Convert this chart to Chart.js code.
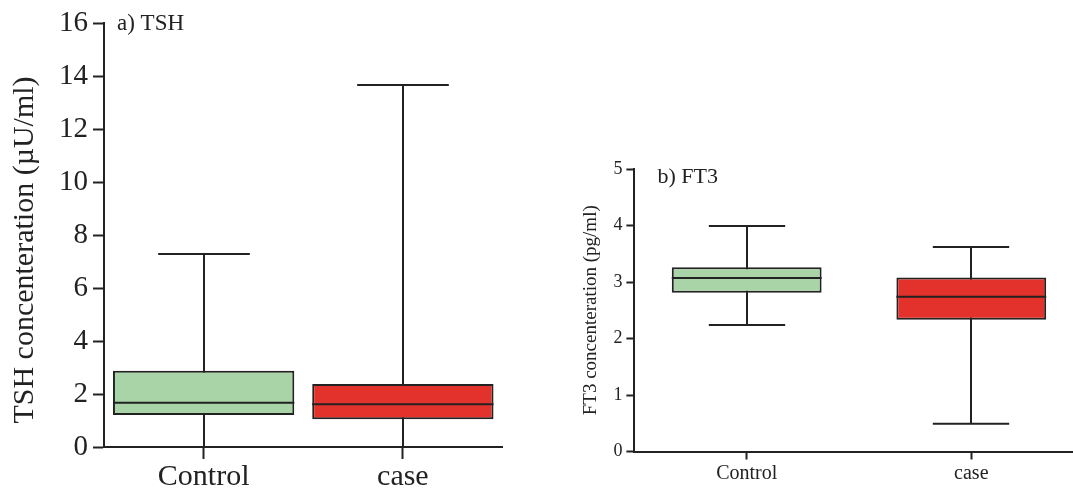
<!DOCTYPE html>
<html><head><meta charset="utf-8">
<script src="https://cdn.jsdelivr.net/npm/chart.js@4.4.0/dist/chart.umd.min.js"></script>
<style>
html,body{margin:0;padding:0;background:#fff;width:1073px;height:491px;overflow:hidden;position:relative}
#wa{position:absolute;left:0;top:0;width:540px;height:491px}
#wb{position:absolute;left:540px;top:0;width:533px;height:491px;overflow:hidden}
canvas{display:block}
</style></head><body>
<div id="wa"><canvas id="ca" width="540" height="491"></canvas></div>
<div id="wb"><canvas id="cb" width="560" height="491"></canvas></div>
<script>
const categories = ['Control', 'case'];

const tshMin    = [0, 0];
const tshQ1     = [1.21, 1.05];
const tshMedian = [1.67, 1.61];
const tshQ3     = [2.88, 2.38];
const tshMax    = [7.28, 13.66];
const tshTicks  = [0, 2, 4, 6, 8, 10, 12, 14, 16];

const ft3Min    = [2.24, 0.49];
const ft3Q1     = [2.81, 2.33];
const ft3Median = [3.07, 2.74];
const ft3Q3     = [3.26, 3.08];
const ft3Max    = [3.99, 3.62];
const ft3Ticks  = [0, 1, 2, 3, 4, 5];

const boxColors = ['#a9d4a8', '#e3312b'];
const INK = '#222';
const SERIF = '"Liberation Serif", "Times New Roman", serif';

function boxPlugin(mins, meds, maxs, capFrac) {
  return {
    id: 'boxWhiskers',
    beforeDatasetsDraw(chart) {
      const xs = chart.scales.x, ys = chart.scales.y, ctx = chart.ctx;
      const catW = xs.width / categories.length;
      ctx.save();
      ctx.strokeStyle = INK; ctx.lineWidth = 2; ctx.lineCap = 'butt';
      categories.forEach((c, i) => {
        const cx = Math.round(xs.getPixelForValue(i));
        const yMin = ys.getPixelForValue(mins[i]);
        const yMax = ys.getPixelForValue(maxs[i]);
        const half = catW * capFrac / 2;
        ctx.beginPath();
        ctx.moveTo(cx, yMin); ctx.lineTo(cx, yMax);
        ctx.moveTo(cx - half, yMax); ctx.lineTo(cx + half, yMax);
        if (mins[i] > ys.min) { ctx.moveTo(cx - half, yMin); ctx.lineTo(cx + half, yMin); }
        ctx.stroke();
      });
      ctx.restore();
    },
    afterDatasetsDraw(chart) {
      const ys = chart.scales.y, ctx = chart.ctx;
      const meta = chart.getDatasetMeta(0);
      ctx.save();
      ctx.strokeStyle = INK; ctx.lineWidth = 2;
      meta.data.forEach((bar, i) => {
        const y = ys.getPixelForValue(meds[i]);
        ctx.beginPath();
        ctx.moveTo(bar.x - bar.width / 2, y); ctx.lineTo(bar.x + bar.width / 2, y);
        ctx.stroke();
      });
      ctx.restore();
    }
  };
}

function panelLabel(text, dx, dy, size) {
  return {
    id: 'panelLabel',
    afterDraw(chart) {
      const ctx = chart.ctx;
      ctx.save();
      ctx.font = size + 'px ' + SERIF;
      ctx.fillStyle = INK; ctx.textBaseline = 'middle'; ctx.textAlign = 'left';
      ctx.fillText(text, chart.chartArea.left + dx, chart.chartArea.top + dy);
      ctx.restore();
    }
  };
}

function makeChart(id, cfg) {
  return new Chart(document.getElementById(id), {
    type: 'bar',
    data: {
      labels: categories,
      datasets: [{
        data: categories.map((c, i) => [cfg.q1[i], cfg.q3[i]]),
        backgroundColor: boxColors,
        borderColor: INK,
        borderWidth: 2,
        borderSkipped: false,
        barPercentage: cfg.barPct,
        categoryPercentage: 1
      }]
    },
    options: {
      responsive: false, animation: false, events: [],
      layout: { padding: { left: 0, right: cfg.padRight, top: cfg.padTop, bottom: 0 } },
      plugins: { legend: { display: false }, tooltip: { enabled: false } },
      scales: {
        x: {
          offset: true,
          grid: { display: true, drawOnChartArea: false, offset: false, tickLength: cfg.xTickLen, tickColor: INK, tickWidth: 2 },
          border: { display: true, color: INK, width: 2 },
          ticks: { color: INK, font: { family: SERIF, size: cfg.xFont }, padding: cfg.xPad, maxRotation: 0 },
          afterFit(s) { s.height = cfg.xHeight; }
        },
        y: {
          min: cfg.ticks[0], max: cfg.ticks[cfg.ticks.length - 1],
          afterBuildTicks(s) { s.ticks = cfg.ticks.map(v => ({ value: v })); },
          grid: { display: true, drawOnChartArea: false, tickLength: cfg.yTickLen, tickColor: INK, tickWidth: 2 },
          border: { display: true, color: INK, width: 2 },
          ticks: { color: INK, font: { family: SERIF, size: cfg.yFont }, padding: cfg.yPad },
          title: { display: true, text: cfg.title, color: INK, font: { family: SERIF, size: cfg.titleFont }, padding: { top: cfg.titlePad, bottom: 0 } },
          afterFit(s) { s.width = cfg.yWidth; }
        }
      }
    },
    plugins: [boxPlugin(cfg.min, cfg.med, cfg.max, cfg.capFrac), panelLabel(cfg.label, cfg.labelDx, cfg.labelDy, cfg.labelFont)]
  });
}

makeChart('ca', {
  q1: tshQ1, q3: tshQ3, min: tshMin, med: tshMedian, max: tshMax, ticks: tshTicks,
  barPct: 0.91, capFrac: 0.46,
  padRight: 37.5, padTop: 23, xHeight: 44, yWidth: 104,
  xTickLen: 12, xFont: 30, xPad: 0,
  yTickLen: 11, yFont: 29, yPad: 5,
  title: 'TSH concenteration (µU/ml)    ', titleFont: 30, titlePad: 7,
  label: 'a) TSH', labelDx: 13, labelDy: 1, labelFont: 23
});

makeChart('cb', {
  q1: ft3Q1, q3: ft3Q3, min: ft3Min, med: ft3Median, max: ft3Max, ticks: ft3Ticks,
  barPct: 0.667, capFrac: 0.34,
  padRight: 16.4, padTop: 169, xHeight: 39.5, yWidth: 94.4,
  xTickLen: 8, xFont: 20, xPad: 2,
  yTickLen: 8, yFont: 18, yPad: 4,
  title: 'FT3 concenteration (pg/ml)', titleFont: 19, titlePad: 40,
  label: 'b) FT3', labelDx: 23, labelDy: 8, labelFont: 22
});
</script>
</body></html>
